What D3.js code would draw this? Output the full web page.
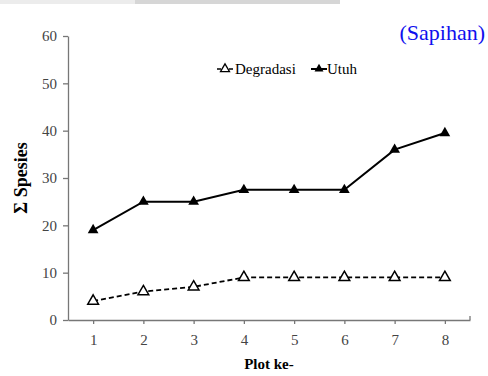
<!DOCTYPE html>
<html>
<head>
<meta charset="utf-8">
<script src="https://cdn.jsdelivr.net/npm/d3@7"></script>
<style>
  body { margin: 0; background: #fff; }
</style>
</head>
<body>
<div id="chart"></div>
<script>
// data
const plots = ["1", "2", "3", "4", "5", "6", "7", "8"];
const degradasi = [4, 6, 7, 9, 9, 9, 9, 9];
const utuh = [19, 25, 25, 27.5, 27.5, 27.5, 36, 39.5];
const yTicks = [0, 10, 20, 30, 40, 50, 60];

const width = 488, height = 376;
const margin = { left: 68, right: 18, top: 36, bottom: 56 };
const serif = "'Liberation Serif', 'Times New Roman', Times, 'DejaVu Serif', serif";

const svg = d3.select("#chart").append("svg")
    .attr("width", width)
    .attr("height", height)
    .attr("font-family", serif);

// faint grey strip at the top edge (from the scanned page)
svg.append("rect").attr("x", 0).attr("y", 0).attr("width", 135).attr("height", 4).attr("fill", "#ececec");
svg.append("rect").attr("x", 135).attr("y", 0).attr("width", 205).attr("height", 4).attr("fill", "#d6d6d6");

const x = d3.scalePoint()
    .domain(plots)
    .range([margin.left, width - margin.right])
    .padding(0.5);

const y = d3.scaleLinear()
    .domain([0, 60])
    .range([height - margin.bottom, margin.top]);

// axes
const yAxis = svg.append("g")
    .attr("transform", `translate(${margin.left},0)`)
    .call(d3.axisLeft(y).tickValues(yTicks).tickSize(5).tickPadding(6).tickSizeOuter(0));

const xAxis = svg.append("g")
    .attr("transform", `translate(0,${height - margin.bottom})`)
    .call(d3.axisBottom(x).tickSize(4).tickPadding(10).tickSizeOuter(0));

[xAxis, yAxis].forEach(g => {
    g.attr("font-family", serif).attr("font-size", 15);
    g.selectAll("path, line").attr("stroke", "#777").attr("stroke-width", 1.3);
    g.selectAll("text").attr("fill", "#444");
});

// small end tick on the right of the x axis
svg.append("line")
    .attr("x1", width - margin.right).attr("x2", width - margin.right)
    .attr("y1", height - margin.bottom).attr("y2", height - margin.bottom - 4)
    .attr("stroke", "#777").attr("stroke-width", 1.3);

const line = d3.line()
    .x((d, i) => x(plots[i]))
    .y(d => y(d));

const tri = d3.symbol().type(d3.symbolTriangle).size(50);

// Utuh series
svg.append("path")
    .datum(utuh)
    .attr("fill", "none")
    .attr("stroke", "#000")
    .attr("stroke-width", 2)
    .attr("d", line);

svg.selectAll(".utuh")
    .data(utuh)
    .join("path")
    .attr("class", "utuh")
    .attr("transform", (d, i) => `translate(${x(plots[i])},${y(d)})`)
    .attr("d", tri)
    .attr("fill", "#000");

// Degradasi series
svg.append("path")
    .datum(degradasi)
    .attr("fill", "none")
    .attr("stroke", "#000")
    .attr("stroke-width", 1.8)
    .attr("stroke-dasharray", "5,3")
    .attr("d", line);

svg.selectAll(".degr")
    .data(degradasi)
    .join("path")
    .attr("class", "degr")
    .attr("transform", (d, i) => `translate(${x(plots[i])},${y(d)})`)
    .attr("d", tri)
    .attr("fill", "#fff")
    .attr("stroke", "#000")
    .attr("stroke-width", 1.5);

// legend
const legY = 69;
const leg = svg.append("g").attr("font-size", 15);
leg.append("line").attr("x1", 217).attr("x2", 233).attr("y1", legY).attr("y2", legY)
    .attr("stroke", "#000").attr("stroke-width", 1.5).attr("stroke-dasharray", "4,2");
leg.append("path").attr("transform", `translate(225,${legY})`)
    .attr("d", d3.symbol().type(d3.symbolTriangle).size(35))
    .attr("fill", "#fff").attr("stroke", "#000").attr("stroke-width", 1.3);
leg.append("text").attr("x", 235).attr("y", legY + 5).text("Degradasi");
leg.append("line").attr("x1", 311).attr("x2", 327).attr("y1", legY).attr("y2", legY)
    .attr("stroke", "#000").attr("stroke-width", 2);
leg.append("path").attr("transform", `translate(319,${legY})`)
    .attr("d", d3.symbol().type(d3.symbolTriangle).size(35))
    .attr("fill", "#000");
leg.append("text").attr("x", 327).attr("y", legY + 5).text("Utuh");

// axis titles
svg.append("text")
    .attr("transform", `translate(27,${(margin.top + height - margin.bottom) / 2}) rotate(-90)`)
    .attr("text-anchor", "middle")
    .attr("font-size", 18)
    .attr("font-weight", "bold")
    .text("Σ Spesies");

svg.append("text")
    .attr("x", (margin.left + width - margin.right) / 2)
    .attr("y", 369)
    .attr("text-anchor", "middle")
    .attr("font-size", 15)
    .attr("font-weight", "bold")
    .text("Plot ke-");

svg.append("text")
    .attr("x", 485)
    .attr("y", 40)
    .attr("text-anchor", "end")
    .attr("fill", "#1010ee")
    .attr("font-size", 22)
    .text("(Sapihan)");
</script>
</body>
</html>
